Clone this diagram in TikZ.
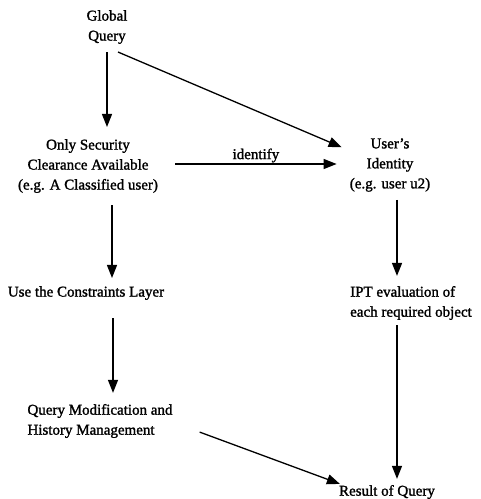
\documentclass[tikz,border=0pt]{standalone}
\usepackage{fontspec}
\setmainfont{Liberation Serif}
\newfontfamily\stagefont[Ligatures=TeX, FakeBold=1.5]{Liberation Serif}
\usetikzlibrary{arrows.meta,positioning,calc}
\tikzset{
    stage/.style={align=center, inner sep=2pt, font=\stagefont\fontsize{15}{20}\selectfont},
    flow/.style={line width=1.3pt, -{Triangle[length=13pt,width=10pt]}},
    flowlabel/.style={font=\stagefont\fontsize{15}{20}\selectfont, inner sep=1pt}
}

\begin{document}
\begin{tikzpicture}[x=1pt,y=-1pt]
    \useasboundingbox (0,0) rectangle (481,499);

    % Query steps
    \node[stage] (global) at (107,27) {Global\\Query};
    \node[stage] (clear) at (88,166) {Only Security\\Clearance Available\\(e.g. A Classified user)};
    \node[stage] (ident) at (390,165) {User's\\Identity\\(e.g. user u2)};
    \node[stage] (layer) at (86,293) {Use the Constraints Layer};
    \node[stage, align=left] (ipt) at (411,303) {IPT evaluation of\\each required object};
    \node[stage, align=left] (qmod) at (100,421) {Query Modification and\\History Management};
    \node[stage] (result) at (387,492) {Result of Query};

    % Left branch
    \draw[flow] ($(global.south)+(0,6)$) -- ($(global.south |- clear.north)+(0,-10)$);
    \draw[flow] ($(clear.south)+(24,10)$) -- ($(layer.north)+(26,-6)$);
    \draw[flow] ($(layer.south)+(27,16)$) -- ($(qmod.north)+(13,-9)$);
    \draw[flow] ($(qmod.south east)+(25,-8)$) -- ($(result.north west)+(3,1)$);

    % Right branch
    \draw[flow] ($(global.south)+(11,6)$) -- ($(ident.155)+(-6,2)$);
    \draw[flow] ($(clear.east)+(15,-2)$) -- node[flowlabel, above] {identify} ($(ident.west |- clear.east)+(-11,-2)$);
    \draw[flow] ($(ident.south)+(7,6)$) -- ($(ipt.north)+(-14,-8)$);
    \draw[flow] ($(ipt.south)+(-14,3)$) -- ($(result.north)+(10,-4)$);
\end{tikzpicture}
\end{document}
